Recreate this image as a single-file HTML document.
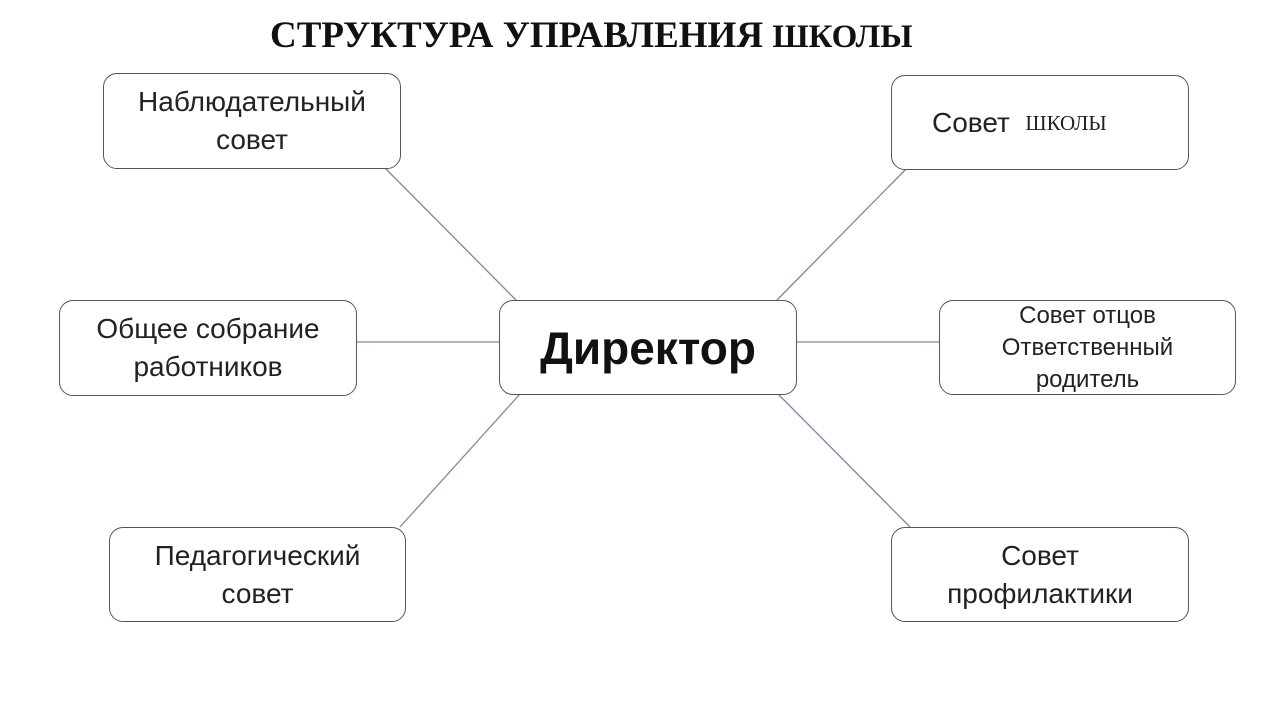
<!DOCTYPE html>
<html><head><meta charset="utf-8"><style>
body{margin:0;width:1280px;height:720px;background:#fff;position:relative;overflow:hidden;font-family:"Liberation Sans","DejaVu Sans",sans-serif;}
.t{position:absolute;top:14px;left:270px;font-family:"Liberation Serif",serif;font-weight:bold;font-size:37px;color:#111;white-space:nowrap;}
.t span{font-size:33px;}
.b{position:absolute;box-sizing:border-box;border:1.3px solid #555;border-radius:14px;background:#fff;display:flex;align-items:center;justify-content:center;text-align:center;font-size:28px;line-height:38px;color:#222;}
svg{position:absolute;left:0;top:0;}
</style></head><body>
<svg width="1280" height="720"><g stroke="#8a80a0" stroke-width="1.3">
<line x1="385" y1="168" x2="516" y2="300"/>
<line x1="906" y1="169" x2="777" y2="300"/>
<line x1="356" y1="342" x2="499" y2="342"/>
<line x1="796" y1="342" x2="939" y2="342"/>
<line x1="520" y1="394" x2="400" y2="527"/>
<line x1="778" y1="394" x2="910" y2="527"/>
</g></svg>
<div class="t">СТРУКТУРА УПРАВЛЕНИЯ <span>ШКОЛЫ</span></div>
<div class="b" style="left:103px;top:73px;width:298px;height:96px">Наблюдательный<br>совет</div>
<div class="b" style="left:891px;top:75px;width:298px;height:95px;justify-content:flex-start;padding-left:40px">Совет&nbsp;&nbsp;<span style="font-family:'Liberation Serif',serif;font-size:21px">ШКОЛЫ</span></div>
<div class="b" style="left:59px;top:300px;width:298px;height:96px">Общее собрание<br>работников</div>
<div class="b" style="left:499px;top:300px;width:298px;height:95px;font-size:46px;font-weight:bold;color:#111">Директор</div>
<div class="b" style="left:939px;top:300px;width:297px;height:95px;font-size:24px;line-height:32px">Совет отцов<br>Ответственный<br>родитель</div>
<div class="b" style="left:109px;top:527px;width:297px;height:95px">Педагогический<br>совет</div>
<div class="b" style="left:891px;top:527px;width:298px;height:95px">Совет<br>профилактики</div>
</body></html>
